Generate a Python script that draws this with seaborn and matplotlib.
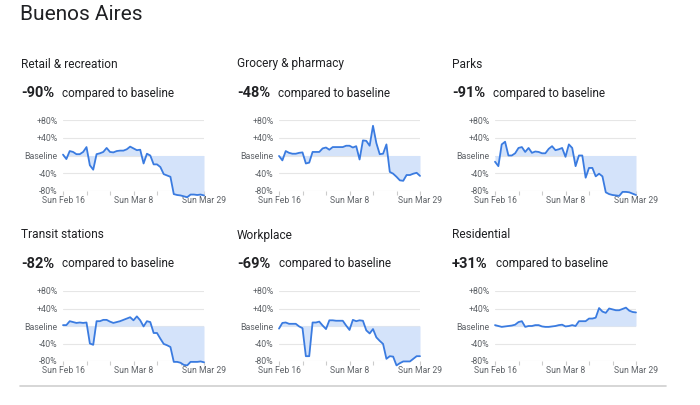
import numpy as np
import pandas as pd
import matplotlib
matplotlib.use("Agg")
import matplotlib.pyplot as plt
import seaborn as sns

sns.set_theme(style="white")
plt.rcParams['font.family'] = ['Roboto', 'DejaVu Sans']

# days Feb 16 .. Mar 29 (43 points)
dates = pd.date_range("2020-02-16", "2020-03-29", freq="D")

categories = ["Retail & recreation", "Grocery & pharmacy", "Parks",
              "Transit stations", "Workplace", "Residential"]
headline = ["-90%", "-48%", "-91%", "-82%", "-69%", "+31%"]

retail = [2, -8, 10, 8, 3, 3, 8, 19, -22, -32, 3, 5, 8, 17, 8, 7, 10, 11, 11, 14, 20,
          16, 12, 13, -18, 4, 0, -20, -20, -26, -42, -45, -48, -87, -89, -90, -92, -94,
          -88, -88, -89, -88, -90]
grocery = [-1, -11, 10, 6, 4, 4, 6, 7, -18, -16, 8, 8, 8, 16, 18, 13, 19, 19, 19, 19, 22,
           22, 18, 21, -9, 34, 33, 22, 67, 28, 3, 4, 25, -37, -41, -48, -56, -57, -44, -44,
           -41, -39, -46]
parks = [-14, -24, 25, 31, 0, 0, 5, 17, 19, 8, 17, 6, 9, 8, 5, 5, 15, 21, 12, 14, 17, -3,
         25, 17, -24, 0, 0, -50, -28, -28, -47, -41, -47, -83, -87, -89, -90, -91, -82, -82,
         -83, -86, -89]
transit = [2, 2, 11, 9, 7, 8, 7, 8, -40, -43, 11, 11, 14, 14, 10, 7, 9, 11, 14, 17, 20, 13,
           22, 13, -1, 11, 9, -16, -16, -29, -41, -44, -48, -82, -82, -84, -89, -90, -82, -82,
           -82, -81, -83]
workplace = [-6, 7, 8, 5, 5, 5, -1, -5, -69, -69, 8, 8, 10, 1, -7, 13, 13, 12, 12, 12, 1,
             -9, 14, 11, 13, 12, -10, -17, -7, -26, -34, -41, -75, -69, -70, -90, -85, -81,
             -81, -81, -75, -69, -69]
residential = [2, 0, -2, -1, 0, 1, 3, 9, 11, -2, 0, 0, 2, 2, -1, -2, -2, -1, 0, 2, 3, -1, 0,
               2, 0, 11, 11, 11, 17, 17, 19, 41, 33, 30, 40, 38, 36, 36, 39, 42, 35, 32, 31]
series = [retail, grocery, parks, transit, workplace, residential]

ytick_vals = [80, 40, 0, -40, -80]
ytick_labels = ["+80%", "+40%", "Baseline", "-40%", "-80%"]
xtick_labels = ["Sun Feb 16", "Sun Mar 8", "Sun Mar 29"]

W, H = 700, 405
fig = plt.figure(figsize=(7, 4.05), dpi=100)

line_c = "#3a7be0"
fill_c = "#d4e3fa"
grid_c = "#e6e6e6"
txt_c = "#202124"
tick_c = "#5f6368"

col_x = [63, 279, 495]      # pixel left of plot area
col_txt = [21, 237, 452]    # pixel left of text
row_top = [120, 291]        # y pixel of +80
row_bot = [191, 361]        # y pixel of -80
row_title = [64, 235]
row_pct = [93, 264]

fig.text(20 / W, 1 - 15 / H, "Buenos Aires", fontsize=15, color=txt_c, va="center")

x = np.arange(len(dates))
for i, (name, vals) in enumerate(zip(categories, series)):
    r, c = divmod(i, 3)
    left = col_x[c] / W
    bottom = 1 - row_bot[r] / H
    ax = fig.add_axes([left, bottom, 141 / W, (row_bot[r] - row_top[r]) / H])
    df = pd.DataFrame({"day": x, "value": vals})
    ax.fill_between(df["day"], df["value"], 0, color=fill_c, lw=0, clip_on=False)
    sns.lineplot(data=df, x="day", y="value", ax=ax, color=line_c, lw=1.3, clip_on=False)
    ax.set_xlim(0, len(dates) - 1)
    ax.set_ylim(-80, 80)
    ax.set_yticks(ytick_vals)
    ax.set_yticklabels(ytick_labels)
    ax.set_xticks([0, 21, 42])
    ax.set_xticklabels(xtick_labels)
    ax.set_xticks(np.arange(0, 43, 7), minor=True)
    ax.set_xlabel("")
    ax.set_ylabel("")
    for s in ax.spines.values():
        s.set_visible(False)
    ax.grid(axis="y", color=grid_c, lw=0.8)
    ax.set_axisbelow(True)
    ax.tick_params(axis="y", length=0, pad=4, labelsize=6.3, labelcolor=tick_c)
    ax.tick_params(axis="x", which="both", length=3, color="#cccccc", width=0.8,
                   pad=0.5, labelsize=6.2, labelcolor=tick_c, bottom=True)

    fig.text(col_txt[c] / W, 1 - row_title[r] / H, name, fontsize=8.6,
             color=txt_c, va="center")
    p = fig.text(col_txt[c] / W, 1 - row_pct[r] / H, headline[i], fontsize=10.5,
                 fontweight="bold", color=txt_c, va="center")
    plt.annotate("compared to baseline", xy=(1, 0.5), xycoords=p,
                 xytext=(6, 0), textcoords="offset points", fontsize=8.5,
                 color=txt_c, va="center", ha="left", annotation_clip=False)

# bottom divider
fig.add_artist(plt.Line2D([20 / W, 666 / W], [1 - 386 / H, 1 - 386 / H],
                          color="#d0d0d0", lw=1.2))

fig.savefig("out.png", dpi=100, facecolor="white")
